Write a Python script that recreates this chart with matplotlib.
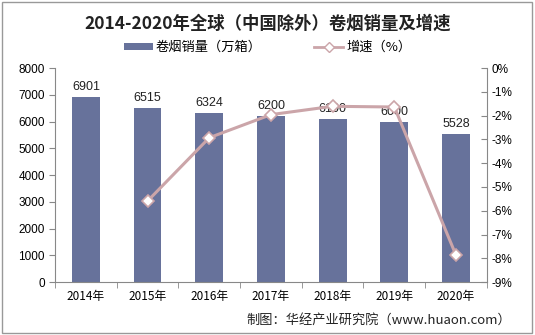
import matplotlib
matplotlib.use("Agg")
from matplotlib import pyplot as plt
from matplotlib.lines import Line2D
from matplotlib.patches import Patch, Rectangle
import numpy as np

plt.rcParams['font.family'] = ['Noto Sans CJK SC', 'DejaVu Sans']

years = ["2014年", "2015年", "2016年", "2017年", "2018年", "2019年", "2020年"]
sales = [6901, 6515, 6324, 6200, 6100, 6000, 5528]
growth_years = ["2015年", "2016年", "2017年", "2018年", "2019年", "2020年"]
growth = [-5.59, -2.93, -1.96, -1.61, -1.64, -7.87]

bar_color = "#67729b"
line_color = "#cba5a9"
axis_color = "#888888"

fig = plt.figure(figsize=(5.35, 3.35), dpi=100)
fig.patches.append(Rectangle((0.004, 0.006), 0.99, 0.988, transform=fig.transFigure,
                             fill=False, edgecolor="#999999", linewidth=1))

ax = fig.add_axes([0.103, 0.158, 0.807, 0.639])
x = np.arange(len(years))
ax.bar(x, sales, width=0.45, color=bar_color, zorder=2)
for xi, v in zip(x, sales):
    ax.text(xi, v + 150, str(v), ha="center", va="bottom", fontsize=9,
            family="Liberation Sans", color="#222222")

ax.set_ylim(0, 8000)
ax.set_yticks(range(0, 8001, 1000))
ax.set_xlim(-0.5, len(years) - 0.5)
ax.set_xticks(x)
ax.set_xticklabels(years)
ax.set_xticks(np.arange(-0.5, len(years), 1), minor=True)
ax.tick_params(axis="x", which="major", length=0, labelsize=8.5, pad=6)
ax.tick_params(axis="x", which="minor", length=4, color=axis_color, direction="out")
ax.tick_params(axis="y", length=4, color=axis_color, labelsize=8.5)
for lbl in ax.get_yticklabels():
    lbl.set_family("Liberation Sans")
ax.spines["top"].set_visible(False)
ax.spines["right"].set_visible(False)
for s in ["left", "bottom"]:
    ax.spines[s].set_color(axis_color)

ax2 = ax.twinx()
gx = [years.index(y) for y in growth_years]
ax2.plot(gx, growth, color=line_color, linewidth=2.2, marker="D", markersize=6,
         markerfacecolor="white", markeredgecolor=line_color, markeredgewidth=1.2, zorder=3)
ax2.set_ylim(-9, 0)
ax2.set_yticks(range(-9, 1))
ax2.set_yticklabels([f"{v}%" for v in range(-9, 1)], family="Liberation Sans")
ax2.tick_params(axis="y", length=4, color=axis_color, labelsize=8.5, direction="in")
for s in ["top", "left", "bottom"]:
    ax2.spines[s].set_visible(False)
ax2.spines["right"].set_color(axis_color)

fig.text(0.5, 0.93, "2014-2020年全球（中国除外）卷烟销量及增速", ha="center", va="center",
         fontsize=12.5, fontweight="bold", color="#222222")

handles = [Patch(facecolor=bar_color),
           Line2D([0], [0], color=line_color, linewidth=2, marker="D", markersize=5,
                  markerfacecolor="white", markeredgecolor=line_color)]
fig.legend(handles, ["卷烟销量（万箱）", "增速（%）"], loc="center", bbox_to_anchor=(0.5, 0.858),
           ncol=2, frameon=False, fontsize=9.5, handlelength=2.2, handleheight=0.5,
           columnspacing=4, handletextpad=0.2)

fig.text(0.955, 0.045, "制图：华经产业研究院（www.huaon.com）", ha="right", va="center",
         fontsize=9.5, color="#222222")

fig.savefig("out.png", dpi=100)
